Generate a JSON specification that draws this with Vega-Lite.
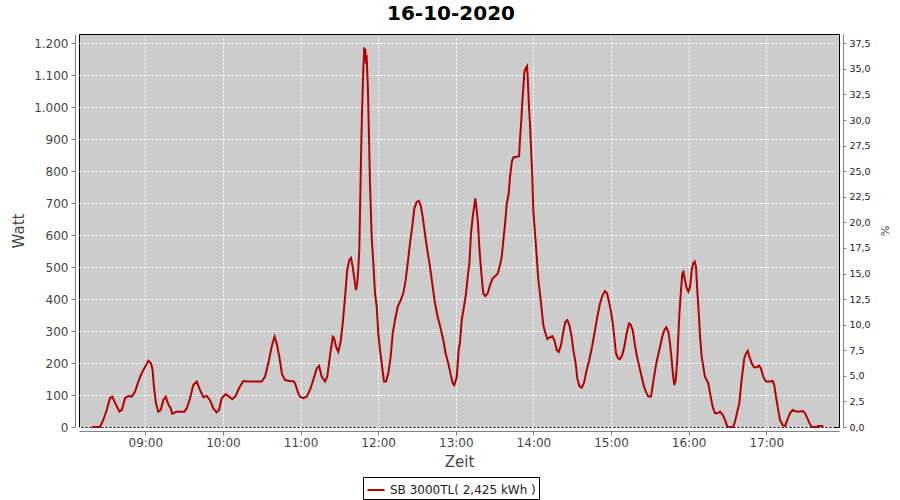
{
  "$schema": "https://vega.github.io/schema/vega-lite/v6.json",
  "autosize": {"type": "none"},
  "padding": {"left": 79, "top": 34, "right": 61, "bottom": 73},
  "width": 760,
  "height": 393,
  "background": "white",
  "title": {"text": "16-10-2020", "fontSize": 20, "font": "DejaVu Sans", "fontWeight": "bold", "color": "#000000", "anchor": "middle", "dx": -8, "offset": 10},
  "datasets": {
    "power": [
      {"t":"2020-10-16T08:18:50","w":0},{"t":"2020-10-16T08:25:00","w":0},{"t":"2020-10-16T08:27:30","w":22},{"t":"2020-10-16T08:30:10","w":53},
      {"t":"2020-10-16T08:32:40","w":90},{"t":"2020-10-16T08:34:30","w":95},{"t":"2020-10-16T08:36:35","w":76},{"t":"2020-10-16T08:39:55","w":48},
      {"t":"2020-10-16T08:41:50","w":53},{"t":"2020-10-16T08:44:20","w":90},{"t":"2020-10-16T08:46:55","w":97},{"t":"2020-10-16T08:49:30","w":95},
      {"t":"2020-10-16T08:52:00","w":110},{"t":"2020-10-16T08:54:35","w":142},{"t":"2020-10-16T08:57:10","w":168},{"t":"2020-10-16T08:59:50","w":188},
      {"t":"2020-10-16T09:02:20","w":207},{"t":"2020-10-16T09:04:25","w":199},{"t":"2020-10-16T09:05:40","w":178},{"t":"2020-10-16T09:06:40","w":126},
      {"t":"2020-10-16T09:08:15","w":74},{"t":"2020-10-16T09:10:00","w":48},{"t":"2020-10-16T09:11:55","w":53},{"t":"2020-10-16T09:13:55","w":84},
      {"t":"2020-10-16T09:15:45","w":95},{"t":"2020-10-16T09:17:45","w":72},{"t":"2020-10-16T09:19:40","w":58},{"t":"2020-10-16T09:20:50","w":41},
      {"t":"2020-10-16T09:24:15","w":48},{"t":"2020-10-16T09:30:10","w":48},{"t":"2020-10-16T09:32:00","w":58},{"t":"2020-10-16T09:34:35","w":90},
      {"t":"2020-10-16T09:37:05","w":131},{"t":"2020-10-16T09:39:45","w":142},{"t":"2020-10-16T09:42:15","w":116},{"t":"2020-10-16T09:44:50","w":93},
      {"t":"2020-10-16T09:47:30","w":97},{"t":"2020-10-16T09:50:00","w":84},{"t":"2020-10-16T09:52:35","w":58},{"t":"2020-10-16T09:55:10","w":46},
      {"t":"2020-10-16T09:57:00","w":53},{"t":"2020-10-16T09:59:05","w":90},{"t":"2020-10-16T10:02:10","w":103},{"t":"2020-10-16T10:04:40","w":95},
      {"t":"2020-10-16T10:07:15","w":87},{"t":"2020-10-16T10:09:55","w":97},{"t":"2020-10-16T10:12:25","w":121},{"t":"2020-10-16T10:15:45","w":144},
      {"t":"2020-10-16T10:19:40","w":142},{"t":"2020-10-16T10:30:00","w":142},{"t":"2020-10-16T10:32:30","w":157},{"t":"2020-10-16T10:35:05","w":199},
      {"t":"2020-10-16T10:37:40","w":251},{"t":"2020-10-16T10:39:55","w":283},{"t":"2020-10-16T10:41:35","w":261},{"t":"2020-10-16T10:43:35","w":220},
      {"t":"2020-10-16T10:45:40","w":165},{"t":"2020-10-16T10:48:00","w":147},{"t":"2020-10-16T10:51:50","w":144},{"t":"2020-10-16T10:54:25","w":143},
      {"t":"2020-10-16T10:55:45","w":137},{"t":"2020-10-16T10:58:15","w":105},{"t":"2020-10-16T10:59:35","w":95},{"t":"2020-10-16T11:02:10","w":90},
      {"t":"2020-10-16T11:04:45","w":95},{"t":"2020-10-16T11:07:20","w":116},{"t":"2020-10-16T11:09:50","w":147},{"t":"2020-10-16T11:12:30","w":183},
      {"t":"2020-10-16T11:14:20","w":191},{"t":"2020-10-16T11:16:25","w":157},{"t":"2020-10-16T11:18:55","w":142},{"t":"2020-10-16T11:20:40","w":157},
      {"t":"2020-10-16T11:22:50","w":225},{"t":"2020-10-16T11:24:55","w":282},{"t":"2020-10-16T11:25:55","w":278},{"t":"2020-10-16T11:27:25","w":251},
      {"t":"2020-10-16T11:29:10","w":235},{"t":"2020-10-16T11:31:00","w":267},{"t":"2020-10-16T11:32:35","w":324},{"t":"2020-10-16T11:34:20","w":402},
      {"t":"2020-10-16T11:36:05","w":491},{"t":"2020-10-16T11:37:40","w":522},{"t":"2020-10-16T11:39:00","w":529},{"t":"2020-10-16T11:40:20","w":501},
      {"t":"2020-10-16T11:42:05","w":449},{"t":"2020-10-16T11:42:50","w":428},{"t":"2020-10-16T11:43:50","w":449},{"t":"2020-10-16T11:44:35","w":491},
      {"t":"2020-10-16T11:45:25","w":553},{"t":"2020-10-16T11:46:00","w":678},{"t":"2020-10-16T11:46:45","w":845},{"t":"2020-10-16T11:47:30","w":980},
      {"t":"2020-10-16T11:48:30","w":1116},{"t":"2020-10-16T11:49:15","w":1183},{"t":"2020-10-16T11:50:05","w":1180},{"t":"2020-10-16T11:50:35","w":1136},
      {"t":"2020-10-16T11:51:05","w":1163},{"t":"2020-10-16T11:52:05","w":1053},{"t":"2020-10-16T11:52:55","w":907},{"t":"2020-10-16T11:53:40","w":762},
      {"t":"2020-10-16T11:55:00","w":595},{"t":"2020-10-16T11:56:15","w":512},{"t":"2020-10-16T11:57:35","w":418},{"t":"2020-10-16T11:58:55","w":376},
      {"t":"2020-10-16T12:00:05","w":293},{"t":"2020-10-16T12:01:25","w":241},{"t":"2020-10-16T12:02:45","w":199},{"t":"2020-10-16T12:04:30","w":142},
      {"t":"2020-10-16T12:06:05","w":142},{"t":"2020-10-16T12:07:50","w":168},{"t":"2020-10-16T12:09:40","w":220},{"t":"2020-10-16T12:11:15","w":293},
      {"t":"2020-10-16T12:13:00","w":334},{"t":"2020-10-16T12:15:05","w":376},{"t":"2020-10-16T12:17:25","w":397},{"t":"2020-10-16T12:19:25","w":418},
      {"t":"2020-10-16T12:21:15","w":459},{"t":"2020-10-16T12:22:50","w":512},{"t":"2020-10-16T12:24:35","w":574},{"t":"2020-10-16T12:26:40","w":637},
      {"t":"2020-10-16T12:27:55","w":683},{"t":"2020-10-16T12:29:45","w":704},{"t":"2020-10-16T12:31:20","w":707},{"t":"2020-10-16T12:32:50","w":694},
      {"t":"2020-10-16T12:34:25","w":657},{"t":"2020-10-16T12:36:10","w":605},{"t":"2020-10-16T12:38:00","w":553},{"t":"2020-10-16T12:40:05","w":501},
      {"t":"2020-10-16T12:42:10","w":438},{"t":"2020-10-16T12:43:55","w":387},{"t":"2020-10-16T12:46:00","w":345},{"t":"2020-10-16T12:48:20","w":308},
      {"t":"2020-10-16T12:50:20","w":272},{"t":"2020-10-16T12:52:10","w":230},{"t":"2020-10-16T12:54:15","w":199},{"t":"2020-10-16T12:56:05","w":163},
      {"t":"2020-10-16T12:57:40","w":137},{"t":"2020-10-16T12:58:50","w":131},{"t":"2020-10-16T13:00:45","w":157},{"t":"2020-10-16T13:02:15","w":241},
      {"t":"2020-10-16T13:03:15","w":265},{"t":"2020-10-16T13:04:35","w":334},{"t":"2020-10-16T13:06:20","w":376},{"t":"2020-10-16T13:07:55","w":418},
      {"t":"2020-10-16T13:09:15","w":470},{"t":"2020-10-16T13:10:30","w":512},{"t":"2020-10-16T13:11:45","w":605},{"t":"2020-10-16T13:13:05","w":657},
      {"t":"2020-10-16T13:14:20","w":694},{"t":"2020-10-16T13:15:05","w":715},{"t":"2020-10-16T13:16:10","w":678},{"t":"2020-10-16T13:17:10","w":637},
      {"t":"2020-10-16T13:18:10","w":563},{"t":"2020-10-16T13:19:15","w":506},{"t":"2020-10-16T13:20:00","w":470},{"t":"2020-10-16T13:21:15","w":418},
      {"t":"2020-10-16T13:22:50","w":409},{"t":"2020-10-16T13:24:40","w":418},{"t":"2020-10-16T13:26:30","w":444},{"t":"2020-10-16T13:28:30","w":465},
      {"t":"2020-10-16T13:30:35","w":472},{"t":"2020-10-16T13:32:25","w":480},{"t":"2020-10-16T13:34:10","w":506},{"t":"2020-10-16T13:35:30","w":532},
      {"t":"2020-10-16T13:36:45","w":584},{"t":"2020-10-16T13:38:00","w":631},{"t":"2020-10-16T13:39:25","w":699},{"t":"2020-10-16T13:40:55","w":730},
      {"t":"2020-10-16T13:41:55","w":782},{"t":"2020-10-16T13:43:15","w":829},{"t":"2020-10-16T13:44:30","w":843},{"t":"2020-10-16T13:47:05","w":845},
      {"t":"2020-10-16T13:48:55","w":847},{"t":"2020-10-16T13:49:40","w":902},{"t":"2020-10-16T13:50:40","w":959},{"t":"2020-10-16T13:51:25","w":1017},
      {"t":"2020-10-16T13:52:10","w":1058},{"t":"2020-10-16T13:53:00","w":1110},{"t":"2020-10-16T13:54:00","w":1121},{"t":"2020-10-16T13:55:05","w":1128},
      {"t":"2020-10-16T13:55:35","w":1095},{"t":"2020-10-16T13:56:35","w":1001},{"t":"2020-10-16T13:57:25","w":944},{"t":"2020-10-16T13:58:05","w":881},
      {"t":"2020-10-16T13:59:10","w":782},{"t":"2020-10-16T13:59:55","w":678},{"t":"2020-10-16T14:01:15","w":605},{"t":"2020-10-16T14:02:35","w":532},
      {"t":"2020-10-16T14:03:50","w":459},{"t":"2020-10-16T14:05:05","w":418},{"t":"2020-10-16T14:06:25","w":366},{"t":"2020-10-16T14:07:40","w":319},
      {"t":"2020-10-16T14:09:00","w":298},{"t":"2020-10-16T14:10:45","w":275},{"t":"2020-10-16T14:12:50","w":280},{"t":"2020-10-16T14:14:35","w":284},
      {"t":"2020-10-16T14:16:10","w":272},{"t":"2020-10-16T14:18:00","w":241},{"t":"2020-10-16T14:19:35","w":235},{"t":"2020-10-16T14:21:20","w":256},
      {"t":"2020-10-16T14:23:05","w":298},{"t":"2020-10-16T14:24:40","w":329},{"t":"2020-10-16T14:26:10","w":334},{"t":"2020-10-16T14:27:45","w":319},
      {"t":"2020-10-16T14:29:35","w":282},{"t":"2020-10-16T14:30:50","w":241},{"t":"2020-10-16T14:32:40","w":199},{"t":"2020-10-16T14:33:55","w":152},
      {"t":"2020-10-16T14:35:30","w":128},{"t":"2020-10-16T14:37:20","w":123},{"t":"2020-10-16T14:39:05","w":137},{"t":"2020-10-16T14:41:10","w":178},
      {"t":"2020-10-16T14:43:10","w":209},{"t":"2020-10-16T14:45:20","w":251},{"t":"2020-10-16T14:47:25","w":298},{"t":"2020-10-16T14:49:25","w":345},
      {"t":"2020-10-16T14:51:30","w":387},{"t":"2020-10-16T14:53:35","w":413},{"t":"2020-10-16T14:55:20","w":425},{"t":"2020-10-16T14:56:55","w":418},
      {"t":"2020-10-16T14:58:25","w":392},{"t":"2020-10-16T15:00:00","w":360},{"t":"2020-10-16T15:01:20","w":324},{"t":"2020-10-16T15:02:30","w":282},
      {"t":"2020-10-16T15:03:50","w":230},{"t":"2020-10-16T15:05:25","w":215},{"t":"2020-10-16T15:06:55","w":212},{"t":"2020-10-16T15:08:40","w":225},
      {"t":"2020-10-16T15:10:15","w":251},{"t":"2020-10-16T15:12:05","w":293},{"t":"2020-10-16T15:13:55","w":324},{"t":"2020-10-16T15:15:10","w":320},
      {"t":"2020-10-16T15:16:45","w":303},{"t":"2020-10-16T15:18:30","w":256},{"t":"2020-10-16T15:19:50","w":225},{"t":"2020-10-16T15:21:55","w":188},
      {"t":"2020-10-16T15:23:40","w":157},{"t":"2020-10-16T15:25:30","w":126},{"t":"2020-10-16T15:27:00","w":110},{"t":"2020-10-16T15:28:50","w":95},
      {"t":"2020-10-16T15:30:55","w":95},{"t":"2020-10-16T15:32:40","w":142},{"t":"2020-10-16T15:34:30","w":188},{"t":"2020-10-16T15:36:05","w":220},
      {"t":"2020-10-16T15:37:55","w":251},{"t":"2020-10-16T15:39:35","w":282},{"t":"2020-10-16T15:41:10","w":303},{"t":"2020-10-16T15:42:40","w":312},
      {"t":"2020-10-16T15:44:20","w":298},{"t":"2020-10-16T15:45:35","w":261},{"t":"2020-10-16T15:46:55","w":209},{"t":"2020-10-16T15:48:05","w":157},
      {"t":"2020-10-16T15:48:55","w":131},{"t":"2020-10-16T15:50:00","w":147},{"t":"2020-10-16T15:51:10","w":209},{"t":"2020-10-16T15:52:00","w":282},
      {"t":"2020-10-16T15:52:50","w":355},{"t":"2020-10-16T15:53:55","w":418},{"t":"2020-10-16T15:55:05","w":480},{"t":"2020-10-16T15:55:55","w":485},
      {"t":"2020-10-16T15:57:10","w":459},{"t":"2020-10-16T15:58:30","w":433},{"t":"2020-10-16T15:59:45","w":423},{"t":"2020-10-16T16:01:05","w":438},
      {"t":"2020-10-16T16:02:25","w":491},{"t":"2020-10-16T16:03:35","w":512},{"t":"2020-10-16T16:04:40","w":517},{"t":"2020-10-16T16:05:40","w":501},
      {"t":"2020-10-16T16:06:40","w":428},{"t":"2020-10-16T16:07:50","w":355},{"t":"2020-10-16T16:08:50","w":282},{"t":"2020-10-16T16:10:05","w":220},
      {"t":"2020-10-16T16:11:20","w":188},{"t":"2020-10-16T16:12:35","w":157},{"t":"2020-10-16T16:15:10","w":137},{"t":"2020-10-16T16:17:00","w":95},
      {"t":"2020-10-16T16:18:35","w":63},{"t":"2020-10-16T16:20:25","w":43},{"t":"2020-10-16T16:22:30","w":43},{"t":"2020-10-16T16:24:10","w":48},
      {"t":"2020-10-16T16:26:20","w":38},{"t":"2020-10-16T16:28:05","w":22},{"t":"2020-10-16T16:29:55","w":1},{"t":"2020-10-16T16:34:30","w":0},
      {"t":"2020-10-16T16:35:50","w":17},{"t":"2020-10-16T16:37:35","w":48},{"t":"2020-10-16T16:39:10","w":74},{"t":"2020-10-16T16:40:30","w":131},
      {"t":"2020-10-16T16:41:50","w":178},{"t":"2020-10-16T16:43:00","w":215},{"t":"2020-10-16T16:44:20","w":230},{"t":"2020-10-16T16:45:40","w":238},
      {"t":"2020-10-16T16:46:55","w":220},{"t":"2020-10-16T16:48:45","w":199},{"t":"2020-10-16T16:50:30","w":187},{"t":"2020-10-16T16:52:35","w":187},
      {"t":"2020-10-16T16:54:25","w":192},{"t":"2020-10-16T16:55:55","w":183},{"t":"2020-10-16T16:57:40","w":157},{"t":"2020-10-16T16:59:50","w":142},
      {"t":"2020-10-16T17:02:55","w":142},{"t":"2020-10-16T17:05:00","w":144},{"t":"2020-10-16T17:06:10","w":131},{"t":"2020-10-16T17:07:30","w":95},
      {"t":"2020-10-16T17:08:50","w":63},{"t":"2020-10-16T17:10:35","w":22},{"t":"2020-10-16T17:12:40","w":6},{"t":"2020-10-16T17:14:40","w":3},
      {"t":"2020-10-16T17:16:15","w":22},{"t":"2020-10-16T17:18:20","w":43},{"t":"2020-10-16T17:20:25","w":53},{"t":"2020-10-16T17:22:10","w":50},
      {"t":"2020-10-16T17:24:45","w":48},{"t":"2020-10-16T17:28:10","w":50},{"t":"2020-10-16T17:30:00","w":43},{"t":"2020-10-16T17:31:45","w":27},
      {"t":"2020-10-16T17:33:50","w":9},{"t":"2020-10-16T17:35:05","w":0},{"t":"2020-10-16T17:39:00","w":0},{"t":"2020-10-16T17:40:00","w":3},
      {"t":"2020-10-16T17:44:05","w":3}
    ],
    "pctAxis": [{"pct": 0}, {"pct": 37.5}]
  },
  "layer": [
    {
      "data": {"name": "power"},
      "mark": {"type": "line", "strokeWidth": 2, "interpolate": "linear"},
      "encoding": {
        "x": {
          "field": "t", "type": "temporal",
          "scale": {"domain": [{"year": 2020, "month": 10, "date": 16, "hours": 8, "minutes": 8, "seconds": 45}, {"year": 2020, "month": 10, "date": 16, "hours": 17, "minutes": 56, "seconds": 13}]},
          "axis": {
            "title": "Zeit", "format": "%H:%M", "grid": true, "titlePadding": 6, "labelPadding": 2, "tickSize": 4,
            "values": [
              {"year": 2020, "month": 10, "date": 16, "hours": 9}, {"year": 2020, "month": 10, "date": 16, "hours": 10},
              {"year": 2020, "month": 10, "date": 16, "hours": 11}, {"year": 2020, "month": 10, "date": 16, "hours": 12},
              {"year": 2020, "month": 10, "date": 16, "hours": 13}, {"year": 2020, "month": 10, "date": 16, "hours": 14},
              {"year": 2020, "month": 10, "date": 16, "hours": 15}, {"year": 2020, "month": 10, "date": 16, "hours": 16},
              {"year": 2020, "month": 10, "date": 16, "hours": 17}
            ]
          }
        },
        "y": {
          "field": "w", "type": "quantitative",
          "scale": {"domain": [0, 1229], "nice": false, "zero": true},
          "axis": {
            "title": "Watt", "format": ",d", "grid": true, "titlePadding": 7, "labelPadding": 3, "tickSize": 4,
            "values": [0, 100, 200, 300, 400, 500, 600, 700, 800, 900, 1000, 1100, 1200]
          }
        },
        "color": {
          "datum": "SB 3000TL( 2,425 kWh )", "type": "nominal",
          "scale": {"range": ["#b40000"]},
          "legend": {
            "title": null, "orient": "none", "legendX": 284, "legendY": 443,
            "symbolType": "stroke", "symbolStrokeWidth": 2, "symbolSize": 290,
            "strokeColor": "#000000", "fillColor": "#ffffff", "padding": 3,
            "labelFont": "DejaVu Sans", "labelFontSize": 12, "labelColor": "#222222", "labelOffset": 4
          }
        }
      }
    },
    {
      "data": {"name": "pctAxis"},
      "mark": {"type": "point", "opacity": 0},
      "encoding": {
        "y": {
          "field": "pct", "type": "quantitative",
          "scale": {"domain": [0, 38.40625], "nice": false},
          "axis": {
            "orient": "right", "title": "%", "format": ".1f", "grid": false,
            "values": [0, 2.5, 5, 7.5, 10, 12.5, 15, 17.5, 20, 22.5, 25, 27.5, 30, 32.5, 35, 37.5],
            "labelFontSize": 9.5, "labelColor": "#222222", "labelPadding": 3, "tickSize": 3,
            "titleFontSize": 11, "titlePadding": 8
          }
        }
      }
    }
  ],
  "resolve": {"scale": {"y": "independent"}},
  "config": {
    "locale": {"number": {"decimal": ",", "thousands": ".", "grouping": [3], "currency": ["", " €"]}},
    "font": "DejaVu Sans",
    "view": {"fill": "#cccccc", "stroke": "#000000", "strokeWidth": 1},
    "axis": {
      "domainColor": "#808080", "tickColor": "#808080",
      "gridColor": "#ffffff", "gridDash": [2, 2], "gridWidth": 1, "gridOpacity": 1,
      "labelFont": "DejaVu Sans", "labelFontSize": 12, "labelColor": "#444444",
      "titleFont": "DejaVu Sans", "titleFontSize": 15, "titleFontWeight": "normal", "titleColor": "#444444",
      "offset": 4
    }
  }
}
